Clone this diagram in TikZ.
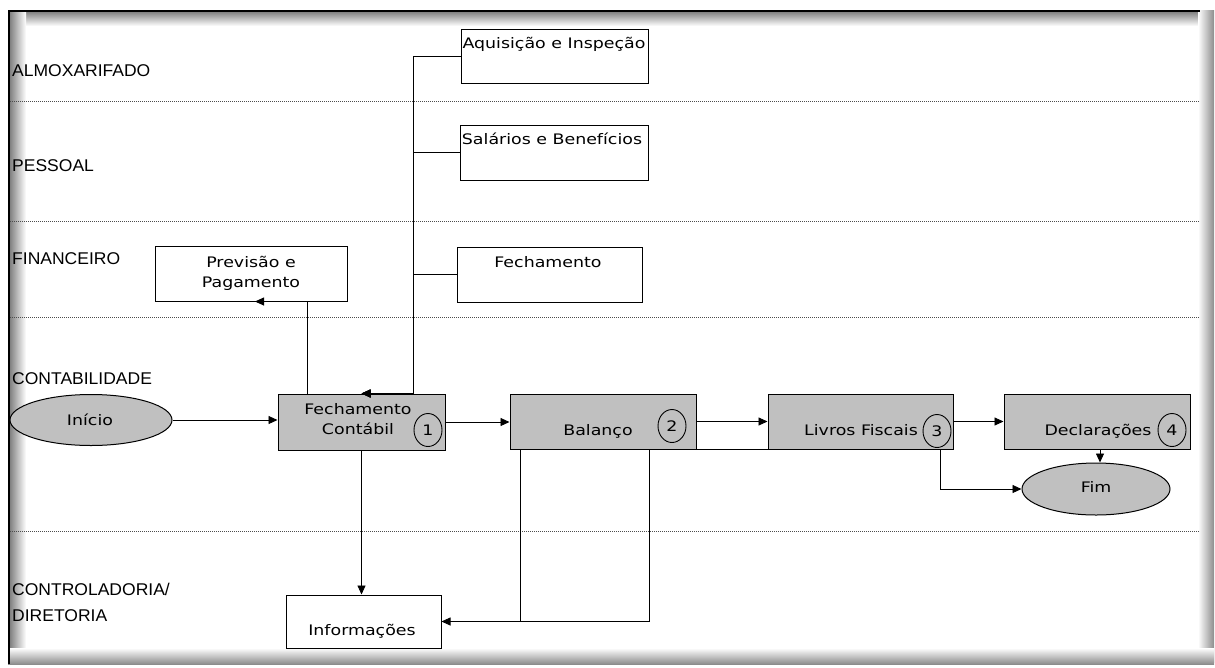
\documentclass[tikz,border=0pt]{standalone}
\usepackage{fontspec}
\setmainfont{DejaVu Sans}
\newfontfamily\lanefont[FakeStretch=1.03]{Liberation Sans}
\newfontfamily\boxfont[FakeStretch=1.2]{DejaVu Sans}
\usetikzlibrary{arrows.meta,shapes.geometric,positioning}
\definecolor{boxgray}{RGB}{192,192,192}

\begin{document}
\begin{tikzpicture}[x=1pt,y=-1pt,
		lane/.style={anchor=base west,inner sep=0,font=\lanefont\fontsize{17}{20}\selectfont},
		txt/.style={anchor=base,inner sep=0,font=\boxfont\fontsize{14.5}{17}\selectfont},
		box/.style={draw,line width=1pt,fill=white,inner sep=0},
		task/.style={box,fill=boxgray},
		num/.style={draw,ellipse,line width=0.9pt,minimum width=28pt,minimum height=33pt,inner sep=0,font=\boxfont\fontsize{14.5}{17}\selectfont},
		term/.style={draw,ellipse,fill=boxgray,line width=1pt,inner sep=0},
		flow/.style={line width=0.9pt,-{Triangle[length=9pt,width=8pt]}},
		sep/.style={dash pattern=on 1pt off 1pt,line width=0.8pt,black!70}]

		\useasboundingbox (0,0) rectangle (1215,667);

		% frame
		\shade	[top color=black!55,bottom color=white] (8,10) rectangle (1200,26);
		\shade	[left color=black!55,right color=white] (8,10) rectangle (26,662);
		\shade	[left color=white,right color=black!45] (1198,10) rectangle (1214,662);
		\shade	[top color=white,bottom color=black!45] (8,648) rectangle (1214,664);
		\draw	[line width=2.5pt] (9,664) -- (9,11) -- (1200,11);

		% lanes
		\draw	[sep] (10,101) -- (1200,101)
				[sep] (10,221) -- (1200,221)
				[sep] (10,317) -- (1200,317)
				[sep] (10,531) -- (1200,531);

		\node	[lane] (almox) at (12,76) {ALMOXARIFADO};
		\node	[lane] (pessoal) at (12,171) {PESSOAL};
		\node	[lane] (financ) at (12,264) {FINANCEIRO};
		\node	[lane] (contab) at (12,384) {CONTABILIDADE};
		\node	[lane] (control) at (12,595) {CONTROLADORIA/};
		\node	[lane] (diret) at (12,621) {DIRETORIA};

		% boxes
		\node	[box,minimum width=187pt,minimum height=54pt] (aquis) at (554.5,56) {};
		\node	[box,minimum width=188pt,minimum height=55pt] (salar) at (554,152.5) {};
		\node	[box,minimum width=185pt,minimum height=55pt] (fechfin) at (549.5,274.5) {};
		\node	[box,minimum width=192pt,minimum height=55pt] (previs) at (251,273.5) {};
		\node	[task,minimum width=167pt,minimum height=56pt] (fechcont) at (361.5,422) {};
		\node	[task,minimum width=186pt,minimum height=55pt] (balanco) at (603,421.5) {};
		\node	[task,minimum width=185pt,minimum height=55pt] (livros) at (860.5,421.5) {};
		\node	[task,minimum width=186pt,minimum height=55pt] (declar) at (1097,421.5) {};
		\node	[box,minimum width=155pt,minimum height=53pt] (inform) at (363.5,621.5) {};
		\node	[term,minimum width=162pt,minimum height=51pt] (inicio) at (91,420) {};
		\node	[term,minimum width=148pt,minimum height=52pt] (fim) at (1096,489) {};

		% box texts
		\node	[txt] (aquist) at (554,48) {Aquisição e Inspeção};
		\node	[txt] (salart) at (552,144) {Salários e Benefícios};
		\node	[txt] (fechfint) at (548,267) {Fechamento};
		\node	[txt] (previst) at (251,267) {Previsão e};
		\node	[txt] (previst2) at (251,287) {Pagamento};
		\node	[txt] (fechcontt) at (358,414) {Fechamento};
		\node	[txt] (fechcontt2) at (358,434) {Contábil};
		\node	[txt] (balancot) at (598,435) {Balanço};
		\node	[txt] (livrost) at (861,435) {Livros Fiscais};
		\node	[txt] (declart) at (1098,435) {Declarações};
		\node	[txt] (informt) at (362,635) {Informações};
		\node	[txt] (iniciot) at (90,425) {Início};
		\node	[txt] (fimt) at (1096,492) {Fim};

		% step numbers
		\node	[num] (n1) at (428,430) {1};
		\node	[num] (n2) at (672,426) {2};
		\node	[num] (n3) at (937,431) {3};
		\node	[num] (n4) at (1172,430) {4};

		% links from the other sectors
		\draw	[flow] (aquis.west) -| ([xshift=51.5pt]fechcont.north) -- (fechcont.north);
		\draw	[flow] (salar.west) -| ([xshift=51.5pt]fechcont.north) -- (fechcont.north);
		\draw	[flow] (fechfin.west) -| ([xshift=51.5pt]fechcont.north) -- (fechcont.north);
		\draw	[flow] ([xshift=-54pt]fechcont.north) |- ([xshift=4pt]previs.south);

		% main flow
		\draw	[flow] (inicio.east) -- (inicio.east -| fechcont.west);
		\draw	[flow] (fechcont.east) -- (fechcont.east -| balanco.west);
		\draw	[flow] (balanco.east) -- (balanco.east -| livros.west);
		\draw	[flow] (livros.east) -- (livros.east -| declar.west);
		\draw	[flow] ([xshift=3pt]declar.south) -- ([xshift=3pt]declar.south |- fim.north);
		\draw	[flow] ([xshift=80pt]livros.south) |- (fim.west);
		\draw	[line width=0.9pt] (balanco.south east) -- (livros.south west);

		% reports
		\draw	[flow] (fechcont.south) -- (fechcont.south |- inform.north);
		\draw	[line width=0.9pt] ([xshift=-83pt]balanco.south) |- (inform.east);
		\draw	[flow] ([xshift=46pt]balanco.south) |- (inform.east);
	\end{tikzpicture}
\end{document}
